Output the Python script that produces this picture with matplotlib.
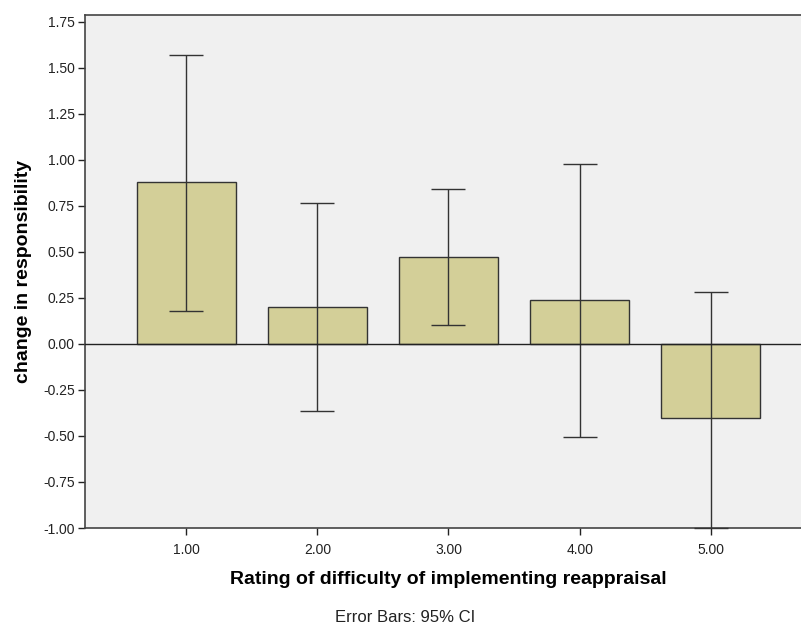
import matplotlib
matplotlib.use("Agg")
import matplotlib.pyplot as plt

categories = [1, 2, 3, 4, 5]
tick_labels = ["1.00", "2.00", "3.00", "4.00", "5.00"]
means = [0.878, 0.201, 0.473, 0.239, -0.402]
ci_low = [0.179, -0.364, 0.103, -0.505, -1.00]
ci_high = [1.572, 0.766, 0.842, 0.978, 0.283]

plt.rcParams['font.family'] = ['Liberation Sans', 'DejaVu Sans']

W, H = 801, 628
fig = plt.figure(figsize=(W / 100, H / 100), dpi=100)
# axes runs a little past the right edge, as in the original export
left, right, top, bottom = 84.5, 812.5, 15, 528
ax = fig.add_axes([left / W, 1 - bottom / H, (right - left) / W, (bottom - top) / H])
ax.set_facecolor('#f0f0f0')

ax.bar(categories, means, width=0.755, color='#d3cf98', edgecolor='#333333',
       linewidth=1.0, zorder=2)
yerr = [[m - lo for m, lo in zip(means, ci_low)],
        [hi - m for m, hi in zip(means, ci_high)]]
ax.errorbar(categories, means, yerr=yerr, fmt='none', ecolor='#333333',
            elinewidth=1.0, capsize=12, capthick=1.0, zorder=3, clip_on=False)
ax.axhline(0, color='#222222', linewidth=1.0, zorder=4)

ax.set_xlim(0.225, 5.775)
ax.set_ylim(-1.0, 1.788)
ax.set_xticks(categories)
ax.set_xticklabels(tick_labels)
ax.set_yticks([-1.0, -0.75, -0.5, -0.25, 0, 0.25, 0.5, 0.75, 1.0, 1.25, 1.5, 1.75])
ax.set_yticklabels(["%.2f" % v for v in ax.get_yticks()])
ax.tick_params(axis='both', labelsize=10, colors='#222222', length=5, width=1.0,
               direction='out')
ax.tick_params(axis='x', pad=6)
ax.tick_params(axis='y', pad=2)

for s in ['left', 'bottom', 'top']:
    ax.spines[s].set_color('#444444')
    ax.spines[s].set_linewidth(1.2)
ax.spines['right'].set_visible(False)

ax.set_ylabel("change in responsibility", fontsize=14, fontweight='bold', labelpad=8)
ax.set_xlabel("Rating of difficulty of implementing reappraisal", fontsize=14,
              fontweight='bold', labelpad=10)
fig.text(405 / W, 1 - 617 / H, "Error Bars: 95% CI", fontsize=12, ha='center',
         va='center', color='#222222')

fig.savefig('out.png', dpi=100)
